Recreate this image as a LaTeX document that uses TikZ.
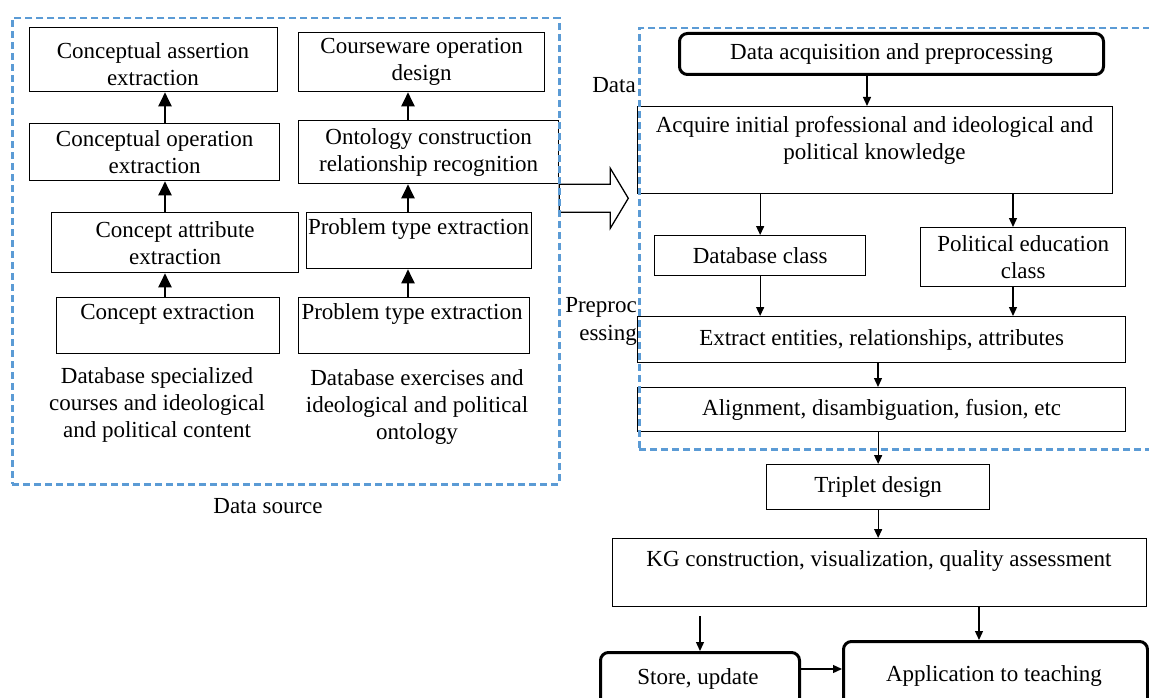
\documentclass[tikz,border=0pt]{standalone}
\usepackage{fontspec}
\setmainfont{Liberation Serif}
\usetikzlibrary{arrows.meta}
\newcommand\diafont{\fontsize{23}{27}\selectfont}
\definecolor{dblue}{HTML}{5B9BD5}
\begin{document}
\begin{tikzpicture}[x=1pt,y=-1pt,
  box/.style={draw, line width=1.3pt, inner sep=0pt, anchor=north west, align=center, font=\diafont},
  rbox/.style={box, line width=3pt, rounded corners=8pt},
  txt/.style={inner sep=0pt, align=center, font=\diafont},
  larr/.style={line width=2pt, -{Triangle[length=14pt,width=13pt]}},
  rarr/.style={line width=1.3pt, -{Triangle[length=9pt,width=8pt]}},
  dbox/.style={draw=dblue, line width=2.5pt, dash pattern=on 7pt off 4pt, inner sep=0pt, anchor=north west}
]
\useasboundingbox (0,0) rectangle (1149,698);
\clip (0,0) rectangle (1149,698);

% guide coordinates
\coordinate (lx) at (165,0);
\coordinate (rx) at (408,0);
\coordinate (v867) at (867,0);
\coordinate (v1013) at (1013,0);
\coordinate (v878) at (878,0);
\coordinate (v979) at (979,0);
\coordinate (h669) at (0,669);

% left panel boxes
\node[box, minimum width=248pt, minimum height=64pt] (ca) at (29,27) {};
\node[txt] (catx) at (153,64.5) {Conceptual assertion\\extraction};
\node[box, minimum width=250pt, minimum height=57pt] (co) at (29,123) {Conceptual operation\\extraction};
\node[box, minimum width=247pt, minimum height=60pt] (cat) at (51,212) {Concept attribute\\extraction};
\node[box, minimum width=223pt, minimum height=56pt] (ce) at (56,297) {};
\node[txt] (cetx) at (167.5,314) {Concept extraction};

\node[box, minimum width=246pt, minimum height=59pt] (cw) at (298,32) {Courseware operation\\design};
\node[box, minimum width=260pt, minimum height=63pt] (on) at (298,120) {Ontology construction\\relationship recognition};
\node[box, minimum width=225pt, minimum height=56pt] (pu) at (306,212) {};
\node[txt] (putx) at (418.5,229) {Problem type extraction};
\node[box, minimum width=231pt, minimum height=56pt] (pl) at (298,297) {};
\node[txt] (pltx) at (412,314) {Problem type extraction};

\node[txt] (dsc) at (157,405) {Database specialized\\courses and ideological\\and political content};
\node[txt] (dex) at (417,407) {Database exercises and\\ideological and political\\ontology};
\node[txt] (dsrc) at (268,506) {Data source};

% left arrows
\draw[larr] (ce.north -| lx) -- (cat.south -| lx);
\draw[larr] (cat.north -| lx) -- (co.south -| lx);
\draw[larr] (co.north -| lx) -- (ca.south -| lx);
\draw[larr] (pl.north -| rx) -- (pu.south -| rx);
\draw[larr] (pu.north -| rx) -- (on.south -| rx);
\draw[larr] (on.north -| rx) -- (cw.south -| rx);

% hollow block arrow
\draw[line width=1.3pt, fill=white] (on.south east) -- ++(51,0) -- ++(0,-16) -- ++(18,30) -- ++(-18,30) -- ++(0,-16) -- ++(-51,0) -- cycle;

% right panel
\node[rbox, minimum width=424pt, minimum height=41pt] (da) at (678,32) {Data acquisition and preprocessing};
\node[box, minimum width=475pt, minimum height=87pt] (aq) at (637,106) {};
\node[txt] (aqtx) at (874.5,140) {Acquire initial professional and ideological and\\political knowledge};
\node[box, minimum width=211pt, minimum height=40pt] (dbc) at (654,235) {Database class};
\node[box, minimum width=205pt, minimum height=59pt] (pol) at (920,227) {Political education\\class};
\node[box, minimum width=488pt, minimum height=46pt] (ex) at (637,316) {Extract entities, relationships, attributes};
\node[box, minimum width=488pt, minimum height=44pt] (al) at (637,387) {Alignment, disambiguation, fusion, etc};
\node[box, minimum width=223pt, minimum height=45pt] (tr) at (766,464) {Triplet design};
\node[box, minimum width=534pt, minimum height=68pt] (kg) at (612,538) {};
\node[txt] (kgtx) at (879,561) {KG construction, visualization, quality assessment};
\node[rbox, minimum width=199pt, minimum height=62pt] (st) at (599,651) {};
\node[txt] (sttx) at (698,679) {Store, update};
\node[rbox, minimum width=304pt, minimum height=72pt] (ap) at (842,640) {};
\node[txt] (aptx) at (994,676) {Application to teaching};

\node[txt, anchor=east] (ldata) at (636,85) {Data};
\node[txt, anchor=east] (lpre1) at (637,307) {Preproc};
\node[txt, anchor=east] (lpre2) at (637,335) {essing};

% right arrows
\draw[rarr] (da.south -| v867) -- (aq.north -| v867);
\draw[rarr] (aq.south -| dbc.north) -- (dbc.north);
\draw[rarr] (aq.south -| v1013) -- (pol.north -| v1013);
\draw[rarr] (dbc.south) -- (ex.north -| dbc.south);
\draw[rarr] (pol.south -| v1013) -- (ex.north -| v1013);
\draw[rarr] (ex.south -| v878) -- (al.north -| v878);
\draw[rarr] (al.south -| tr.north) -- (tr.north);
\draw[rarr] (tr.south) -- (kg.north -| tr.south);
\draw[rarr, shorten <=9pt] (kg.south -| st.north) -- (st.north);
\draw[rarr] (kg.south -| v979) -- (ap.north -| v979);
\draw[rarr] (st.east |- h669) -- (ap.west |- h669);

% dashed containers
\node[dbox, minimum width=547pt, minimum height=466pt] (src) at (11,17) {};
\node[dbox, minimum width=540pt, minimum height=421pt] (pre) at (638,27) {};
\end{tikzpicture}
\end{document}
